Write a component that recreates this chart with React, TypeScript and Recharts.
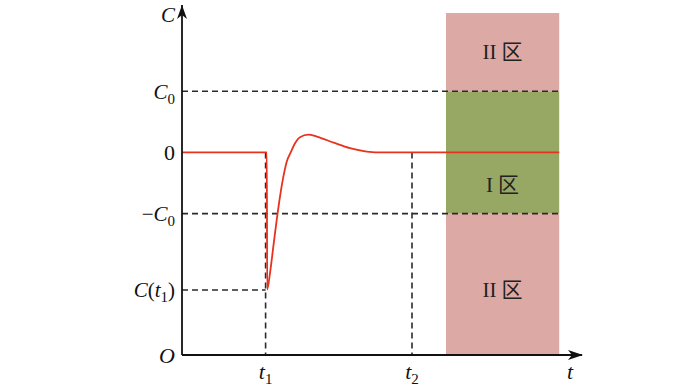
import React from 'react';
import {
  ComposedChart,
  Line,
  XAxis,
  YAxis,
  ReferenceArea,
  ReferenceLine,
  ReferenceDot,
} from 'recharts';

// time axis (arbitrary units, 0..100) and response C(t), with C0 = 1
const timePoints = [0, 21.2, 21.3, 22.0, 22.83, 23.68, 24.5, 25.33, 26.18, 27.18, 28.25, 29.5, 31.58, 33.68, 37.9, 42.0, 46.2, 50.3, 54.5, 94.3];
const responseValues = [0, 0, -2.24, -1.97, -1.54, -1.1, -0.72, -0.4, -0.15, 0, 0.15, 0.25, 0.29, 0.26, 0.16, 0.07, 0.015, 0, 0, 0];

const T1 = 20.9;
const T2 = 57.5;
const T_LABEL = 97;
const ZONE_START = 66;
const ZONE_END = 94.3;
const ZONE_TOP = 2.28;
const C0 = 1;
const C_T1 = -2.247;
const C_LABEL = 2.26;
const Y_MIN = -3.31;
const Y_MAX = 2.41;
const X_MAX = 100;

const xTicks = [T1, T2, T_LABEL];
const yTicks = [C_LABEL, C0, 0, -C0, C_T1, Y_MIN];

const zoneLabels = [
  { name: 'II', y: 1.64 },
  { name: 'I', y: -0.53 },
  { name: 'II', y: -2.25 },
];

const data = timePoints.map((t, i) => ({ t, c: responseValues[i] }));

const MATH = '"Liberation Serif", "DejaVu Serif", serif';
const DASH = '#2b2b2b';
const DASH_W = 1.6;
const DASH_PATTERN = '6 4';

const YTick = ({ x, y, payload }: any) => {
  const v = payload.value;
  const common = { x, y, dy: '0.35em', textAnchor: 'end' as const, fontFamily: MATH, fontSize: 21, fill: '#111' };
  if (v === C_LABEL)
    return <text {...common} fontStyle="italic">C</text>;
  if (v === C0)
    return (
      <text {...common}>
        <tspan fontStyle="italic">C</tspan>
        <tspan fontSize={15} dy={5}>0</tspan>
      </text>
    );
  if (v === 0) return <text {...common} fontSize={22}>0</text>;
  if (v === -C0)
    return (
      <text {...common}>
        <tspan>−</tspan>
        <tspan fontStyle="italic">C</tspan>
        <tspan fontSize={15} dy={5}>0</tspan>
      </text>
    );
  if (v === C_T1)
    return (
      <text {...common}>
        <tspan fontStyle="italic">C</tspan>
        <tspan>(</tspan>
        <tspan fontStyle="italic">t</tspan>
        <tspan fontSize={15} dy={5}>1</tspan>
        <tspan dy={-5}>)</tspan>
      </text>
    );
  return <text {...common} fontStyle="italic" fontSize={22}>O</text>;
};

const XTick = ({ x, y, payload }: any) => {
  const v = payload.value;
  const sub = v === T1 ? '1' : v === T2 ? '2' : '';
  return (
    <text x={x} y={y} dy={20} textAnchor="middle" fontFamily={MATH} fontSize={22} fill="#111">
      <tspan fontStyle="italic">t</tspan>
      {sub && <tspan fontSize={15} dy={5}>{sub}</tspan>}
    </text>
  );
};

const xArrow = ({ cx, cy }: any) => (
  <path d={`M${cx + 1},${cy} L${cx - 14},${cy - 5} L${cx - 10},${cy} L${cx - 14},${cy + 5} Z`} fill="#111" />
);

const yArrow = ({ cx, cy }: any) => (
  <path d={`M${cx},${cy} L${cx - 5},${cy + 14} L${cx},${cy + 10} L${cx + 5},${cy + 14} Z`} fill="#111" />
);

const zoneText = (name: string) => ({ cx, cy }: any) => (
  <text x={cx} y={cy} dy="0.35em" textAnchor="middle" fontSize={21} fill="#222">
    <tspan fontFamily={MATH}>{name}</tspan>
    <tspan fontFamily='"Noto Sans CJK SC", sans-serif' dx={5}>区</tspan>
  </text>
);

export default function App() {
  return (
    <div style={{ position: 'absolute', left: 0, top: 0, background: '#fff' }}>
      <ComposedChart width={700} height={390} data={data} margin={{ top: 5, right: 118, bottom: 5, left: 122 }}>
        <XAxis
          dataKey="t"
          type="number"
          domain={[0, X_MAX]}
          ticks={xTicks}
          tick={<XTick />}
          tickLine={false}
          tickSize={0}
          tickMargin={4}
          height={30}
          axisLine={{ stroke: '#111', strokeWidth: 1.8 }}
          allowDataOverflow
        />
        <YAxis
          type="number"
          domain={[Y_MIN, Y_MAX]}
          ticks={yTicks}
          tick={<YTick />}
          tickLine={false}
          tickSize={0}
          tickMargin={7}
          width={60}
          interval={0}
          axisLine={{ stroke: '#111', strokeWidth: 1.8 }}
          allowDataOverflow
        />
        <ReferenceArea x1={ZONE_START} x2={ZONE_END} y1={C0} y2={ZONE_TOP} fill="#dca9a4" fillOpacity={1} stroke="none" />
        <ReferenceArea x1={ZONE_START} x2={ZONE_END} y1={-C0} y2={C0} fill="#97a865" fillOpacity={1} stroke="none" />
        <ReferenceArea x1={ZONE_START} x2={ZONE_END} y1={Y_MIN} y2={-C0} fill="#dca9a4" fillOpacity={1} stroke="none" />
        <ReferenceLine segment={[{ x: 0, y: C0 }, { x: ZONE_END, y: C0 }]} stroke={DASH} strokeWidth={DASH_W} strokeDasharray={DASH_PATTERN} />
        <ReferenceLine segment={[{ x: 0, y: -C0 }, { x: ZONE_END, y: -C0 }]} stroke={DASH} strokeWidth={DASH_W} strokeDasharray={DASH_PATTERN} />
        <ReferenceLine segment={[{ x: 0, y: C_T1 }, { x: T1, y: C_T1 }]} stroke={DASH} strokeWidth={DASH_W} strokeDasharray={DASH_PATTERN} />
        <ReferenceLine segment={[{ x: T1, y: 0 }, { x: T1, y: Y_MIN }]} stroke={DASH} strokeWidth={DASH_W} strokeDasharray={DASH_PATTERN} />
        <ReferenceLine segment={[{ x: T2, y: 0 }, { x: T2, y: Y_MIN }]} stroke={DASH} strokeWidth={DASH_W} strokeDasharray={DASH_PATTERN} />
        {zoneLabels.map((z, i) => (
          <ReferenceDot key={i} x={(ZONE_START + ZONE_END) / 2} y={z.y} r={0} shape={zoneText(z.name)} />
        ))}
        <Line dataKey="c" type="monotone" stroke="#e8321e" strokeWidth={1.8} dot={false} isAnimationActive={false} />
        <ReferenceDot x={X_MAX} y={Y_MIN} r={0} shape={xArrow} ifOverflow="visible" />
        <ReferenceDot x={0} y={Y_MAX} r={0} shape={yArrow} ifOverflow="visible" />
      </ComposedChart>
    </div>
  );
}
